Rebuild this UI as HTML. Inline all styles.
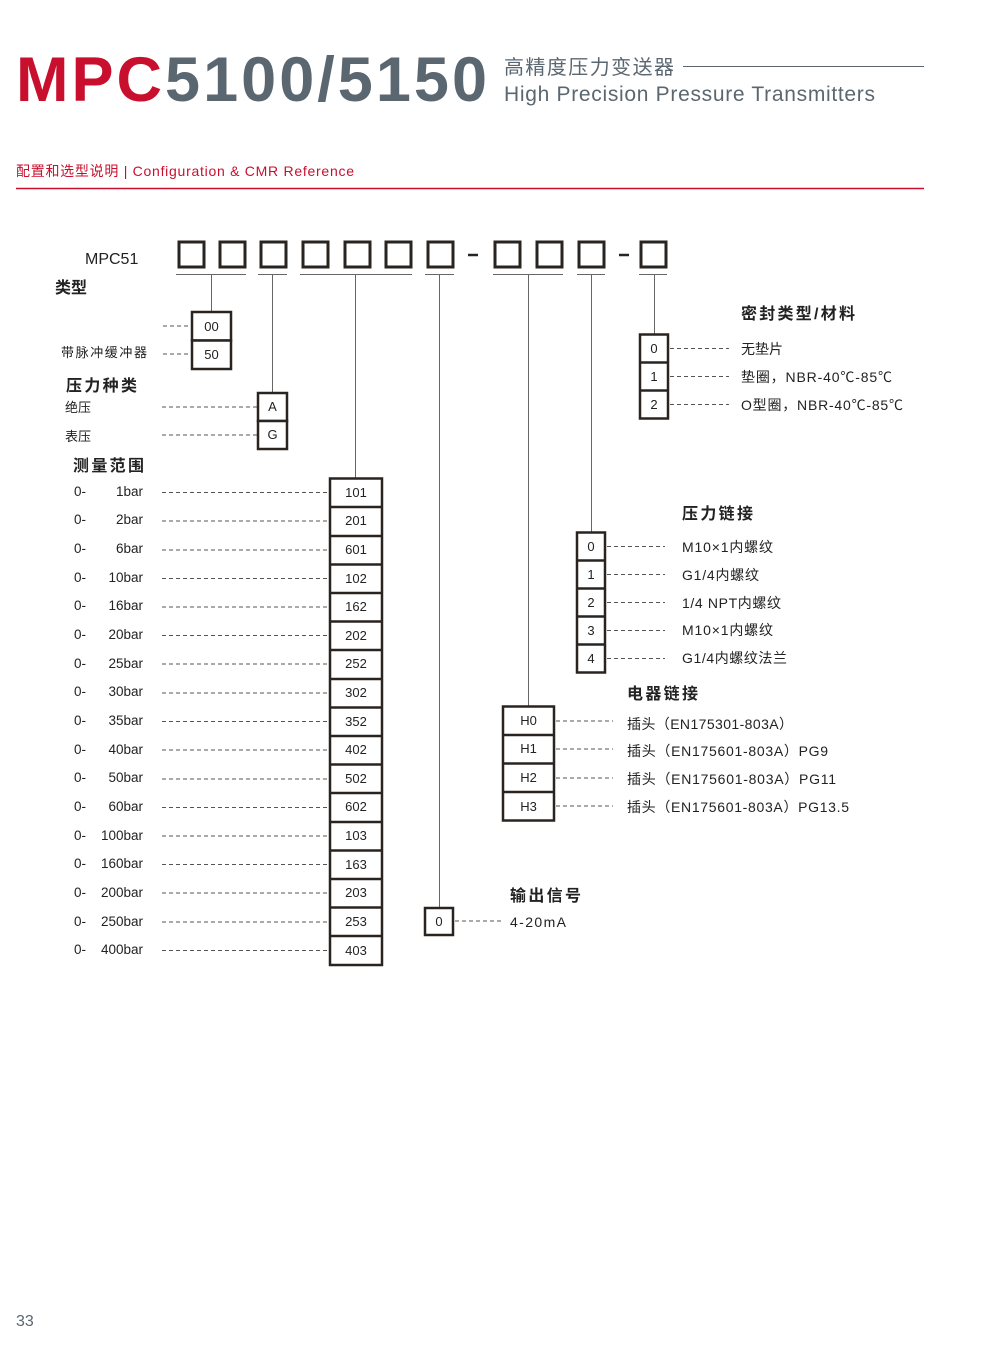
<!DOCTYPE html>
<html><head><meta charset="utf-8"><style>
html,body{margin:0;padding:0;background:#fff;width:1000px;height:1357px;overflow:hidden}
svg text{font-family:"Liberation Sans","Noto Sans CJK SC",sans-serif;fill:#222}
</style></head><body>
<svg width="1000" height="1357" viewBox="0 0 1000 1357" xmlns="http://www.w3.org/2000/svg">
<text x="16" y="101" textLength="471" lengthAdjust="spacing" style="font-size:63px;font-weight:bold;fill:#c8102e">MPC<tspan style="fill:#5b6770">5100/5150</tspan></text>
<text x="504" y="74" textLength="170" style="font-size:20px;fill:#5b6770">高精度压力变送器</text>
<line x1="683" y1="66.5" x2="924" y2="66.5" stroke="#5b6770" stroke-width="1"/>
<text x="504" y="101" textLength="371" style="font-size:21px;fill:#5b6770">High Precision Pressure Transmitters</text>
<text x="16" y="176" textLength="338" style="font-size:14px;fill:#c8102e">配置和选型说明 |  Configuration &amp; CMR Reference</text>
<line x1="16" y1="188.5" x2="924" y2="188.5" stroke="#c8102e" stroke-width="1.5"/>

<g fill="none" stroke="#2a2420" stroke-width="3">
<rect x="179" y="242" width="25" height="25"/><rect x="220" y="242" width="25" height="25"/>
<rect x="261" y="242" width="25" height="25"/><rect x="303" y="242" width="25" height="25"/>
<rect x="345" y="242" width="25" height="25"/><rect x="386" y="242" width="25" height="25"/>
<rect x="428" y="242" width="25" height="25"/><rect x="495" y="242" width="25" height="25"/>
<rect x="537" y="242" width="25" height="25"/><rect x="579" y="242" width="25" height="25"/>
<rect x="641" y="242" width="25" height="25"/>
</g>
<g stroke="#2a2420" stroke-width="2.5"><line x1="468" y1="255" x2="478" y2="255"/><line x1="619" y1="255" x2="629" y2="255"/></g>
<text x="85" y="264" style="font-size:16px">MPC51</text>
<g stroke="#666" stroke-width="1">
<line x1="176" y1="274.5" x2="246" y2="274.5"/><line x1="258" y1="274.5" x2="287" y2="274.5"/>
<line x1="300" y1="274.5" x2="412" y2="274.5"/><line x1="425" y1="274.5" x2="454" y2="274.5"/>
<line x1="493" y1="274.5" x2="563" y2="274.5"/><line x1="577" y1="274.5" x2="605" y2="274.5"/>
<line x1="639" y1="274.5" x2="667" y2="274.5"/>
<line x1="211.5" y1="275" x2="211.5" y2="312"/><line x1="272.5" y1="275" x2="272.5" y2="392"/>
<line x1="355.5" y1="275" x2="355.5" y2="478"/><line x1="439.5" y1="275" x2="439.5" y2="907"/>
<line x1="528.5" y1="275" x2="528.5" y2="706"/><line x1="591.5" y1="275" x2="591.5" y2="532"/>
<line x1="654.5" y1="275" x2="654.5" y2="334"/>
</g>

<text x="55" y="293" style="font-size:16px;font-weight:bold">类型</text>
<text x="61" y="357" textLength="86" style="font-size:13px">带脉冲缓冲器</text>
<g stroke="#555" stroke-dasharray="4,3"><line x1="163" y1="326" x2="191" y2="326"/><line x1="163" y1="354" x2="191" y2="354"/></g>
<g fill="#fff" stroke="#2a2420" stroke-width="2.5"><rect x="192" y="312" width="39" height="28.5"/><rect x="192" y="340.5" width="39" height="28.5"/></g>
<g style="font-size:13px" text-anchor="middle"><text x="211.5" y="331">00</text><text x="211.5" y="359">50</text></g>

<text x="66" y="391" textLength="71" style="font-size:16px;font-weight:bold">压力种类</text>
<text x="65" y="412" style="font-size:13px">绝压</text><text x="65" y="441" style="font-size:13px">表压</text>
<g stroke="#555" stroke-dasharray="4,3"><line x1="162" y1="407" x2="257" y2="407"/><line x1="162" y1="435" x2="257" y2="435"/></g>
<g fill="#fff" stroke="#2a2420" stroke-width="2.5"><rect x="258" y="393" width="29" height="28"/><rect x="258" y="421" width="29" height="28"/></g>
<g style="font-size:13px" text-anchor="middle"><text x="272.5" y="411">A</text><text x="272.5" y="439">G</text></g>

<text x="73" y="471" textLength="71" style="font-size:16px;font-weight:bold">测量范围</text>
<g style="font-size:13.5px">
<text x="74" y="496">0-</text><text x="143" y="496" text-anchor="end">1bar</text>
<text x="74" y="524">0-</text><text x="143" y="524" text-anchor="end">2bar</text>
<text x="74" y="553">0-</text><text x="143" y="553" text-anchor="end">6bar</text>
<text x="74" y="582">0-</text><text x="143" y="582" text-anchor="end">10bar</text>
<text x="74" y="610">0-</text><text x="143" y="610" text-anchor="end">16bar</text>
<text x="74" y="639">0-</text><text x="143" y="639" text-anchor="end">20bar</text>
<text x="74" y="668">0-</text><text x="143" y="668" text-anchor="end">25bar</text>
<text x="74" y="696">0-</text><text x="143" y="696" text-anchor="end">30bar</text>
<text x="74" y="725">0-</text><text x="143" y="725" text-anchor="end">35bar</text>
<text x="74" y="754">0-</text><text x="143" y="754" text-anchor="end">40bar</text>
<text x="74" y="782">0-</text><text x="143" y="782" text-anchor="end">50bar</text>
<text x="74" y="811">0-</text><text x="143" y="811" text-anchor="end">60bar</text>
<text x="74" y="840">0-</text><text x="143" y="840" text-anchor="end">100bar</text>
<text x="74" y="868">0-</text><text x="143" y="868" text-anchor="end">160bar</text>
<text x="74" y="897">0-</text><text x="143" y="897" text-anchor="end">200bar</text>
<text x="74" y="926">0-</text><text x="143" y="926" text-anchor="end">250bar</text>
<text x="74" y="954">0-</text><text x="143" y="954" text-anchor="end">400bar</text>
</g>
<g stroke="#555" stroke-dasharray="4,3">
<line x1="162" y1="492.5" x2="329" y2="492.5"/><line x1="162" y1="521" x2="329" y2="521"/><line x1="162" y1="550" x2="329" y2="550"/>
<line x1="162" y1="578.5" x2="329" y2="578.5"/><line x1="162" y1="607" x2="329" y2="607"/><line x1="162" y1="635.5" x2="329" y2="635.5"/>
<line x1="162" y1="664" x2="329" y2="664"/><line x1="162" y1="693" x2="329" y2="693"/><line x1="162" y1="721.5" x2="329" y2="721.5"/>
<line x1="162" y1="750" x2="329" y2="750"/><line x1="162" y1="779" x2="329" y2="779"/><line x1="162" y1="807.5" x2="329" y2="807.5"/>
<line x1="162" y1="836" x2="329" y2="836"/><line x1="162" y1="864.5" x2="329" y2="864.5"/><line x1="162" y1="893" x2="329" y2="893"/>
<line x1="162" y1="922" x2="329" y2="922"/><line x1="162" y1="950.5" x2="329" y2="950.5"/>
</g>
<rect x="330" y="478.5" width="52" height="486.5" fill="#fff" stroke="#2a2420" stroke-width="2.5"/>
<g stroke="#2a2420" stroke-width="2.5">
<line x1="330" y1="507" x2="382" y2="507"/><line x1="330" y1="536" x2="382" y2="536"/><line x1="330" y1="564.5" x2="382" y2="564.5"/>
<line x1="330" y1="593" x2="382" y2="593"/><line x1="330" y1="621.5" x2="382" y2="621.5"/><line x1="330" y1="650" x2="382" y2="650"/>
<line x1="330" y1="679" x2="382" y2="679"/><line x1="330" y1="707.5" x2="382" y2="707.5"/><line x1="330" y1="736" x2="382" y2="736"/>
<line x1="330" y1="764.5" x2="382" y2="764.5"/><line x1="330" y1="793" x2="382" y2="793"/><line x1="330" y1="822" x2="382" y2="822"/>
<line x1="330" y1="850.5" x2="382" y2="850.5"/><line x1="330" y1="879" x2="382" y2="879"/><line x1="330" y1="907.5" x2="382" y2="907.5"/>
<line x1="330" y1="936" x2="382" y2="936"/>
</g>
<g style="font-size:13px" text-anchor="middle">
<text x="356" y="497">101</text><text x="356" y="525">201</text><text x="356" y="554">601</text><text x="356" y="583">102</text>
<text x="356" y="611">162</text><text x="356" y="640">202</text><text x="356" y="668">252</text><text x="356" y="697">302</text>
<text x="356" y="726">352</text><text x="356" y="754">402</text><text x="356" y="783">502</text><text x="356" y="811">602</text>
<text x="356" y="840">103</text><text x="356" y="869">163</text><text x="356" y="897">203</text><text x="356" y="926">253</text>
<text x="356" y="955">403</text>
</g>

<text x="741" y="319" textLength="114" style="font-size:16px;font-weight:bold">密封类型/材料</text>
<rect x="640" y="334.5" width="28" height="84" fill="#fff" stroke="#2a2420" stroke-width="2.5"/>
<g stroke="#2a2420" stroke-width="2.5"><line x1="640" y1="362.5" x2="668" y2="362.5"/><line x1="640" y1="390.5" x2="668" y2="390.5"/></g>
<g style="font-size:13px" text-anchor="middle"><text x="654" y="353">0</text><text x="654" y="381">1</text><text x="654" y="409">2</text></g>
<g stroke="#555" stroke-dasharray="4,3"><line x1="670" y1="348.5" x2="729" y2="348.5"/><line x1="670" y1="376.5" x2="729" y2="376.5"/><line x1="670" y1="404.5" x2="729" y2="404.5"/></g>
<g style="font-size:14px"><text x="741" y="354">无垫片</text><text x="741" y="382" textLength="151">垫圈，NBR-40℃-85℃</text><text x="741" y="410" textLength="162">O型圈，NBR-40℃-85℃</text></g>

<text x="682" y="519" textLength="71" style="font-size:16px;font-weight:bold">压力链接</text>
<rect x="577" y="532.5" width="28" height="140" fill="#fff" stroke="#2a2420" stroke-width="2.5"/>
<g stroke="#2a2420" stroke-width="2.5"><line x1="577" y1="560.5" x2="605" y2="560.5"/><line x1="577" y1="588.5" x2="605" y2="588.5"/><line x1="577" y1="616.5" x2="605" y2="616.5"/><line x1="577" y1="644.5" x2="605" y2="644.5"/></g>
<g style="font-size:13px" text-anchor="middle"><text x="591" y="551">0</text><text x="591" y="579">1</text><text x="591" y="607">2</text><text x="591" y="635">3</text><text x="591" y="663">4</text></g>
<g stroke="#555" stroke-dasharray="4,3"><line x1="607" y1="546.5" x2="665" y2="546.5"/><line x1="607" y1="574.5" x2="665" y2="574.5"/><line x1="607" y1="602.5" x2="665" y2="602.5"/><line x1="607" y1="630.5" x2="665" y2="630.5"/><line x1="607" y1="658.5" x2="665" y2="658.5"/></g>
<g style="font-size:14px"><text x="682" y="552" textLength="91">M10×1内螺纹</text><text x="682" y="580" textLength="77">G1/4内螺纹</text><text x="682" y="608" textLength="99">1/4 NPT内螺纹</text><text x="682" y="635" textLength="91">M10×1内螺纹</text><text x="682" y="663" textLength="105">G1/4内螺纹法兰</text></g>

<text x="627" y="699" textLength="71" style="font-size:16px;font-weight:bold">电器链接</text>
<rect x="503" y="706.5" width="51" height="114" fill="#fff" stroke="#2a2420" stroke-width="2.5"/>
<g stroke="#2a2420" stroke-width="2.5"><line x1="503" y1="735" x2="554" y2="735"/><line x1="503" y1="763.5" x2="554" y2="763.5"/><line x1="503" y1="792" x2="554" y2="792"/></g>
<g style="font-size:13px" text-anchor="middle"><text x="528.5" y="725">H0</text><text x="528.5" y="753">H1</text><text x="528.5" y="782">H2</text><text x="528.5" y="811">H3</text></g>
<g stroke="#555" stroke-dasharray="4,3"><line x1="556" y1="721" x2="613" y2="721"/><line x1="556" y1="749" x2="613" y2="749"/><line x1="556" y1="778" x2="613" y2="778"/><line x1="556" y1="806" x2="613" y2="806"/></g>
<g style="font-size:14px"><text x="627" y="729" textLength="166">插头（EN175301-803A）</text><text x="627" y="756" textLength="201">插头（EN175601-803A）PG9</text><text x="627" y="784" textLength="209">插头（EN175601-803A）PG11</text><text x="627" y="812" textLength="222">插头（EN175601-803A）PG13.5</text></g>

<text x="510" y="901" textLength="71" style="font-size:16px;font-weight:bold">输出信号</text>
<rect x="425" y="908" width="28" height="27" fill="#fff" stroke="#2a2420" stroke-width="2.5"/>
<text x="439" y="926" style="font-size:13px" text-anchor="middle">0</text>
<line x1="455" y1="921" x2="504" y2="921" stroke="#555" stroke-dasharray="4,3"/>
<text x="510" y="927" textLength="56" style="font-size:14px">4-20mA</text>

<text x="16" y="1326" style="font-size:16px;fill:#5b6770">33</text>
</svg>
</body></html>
